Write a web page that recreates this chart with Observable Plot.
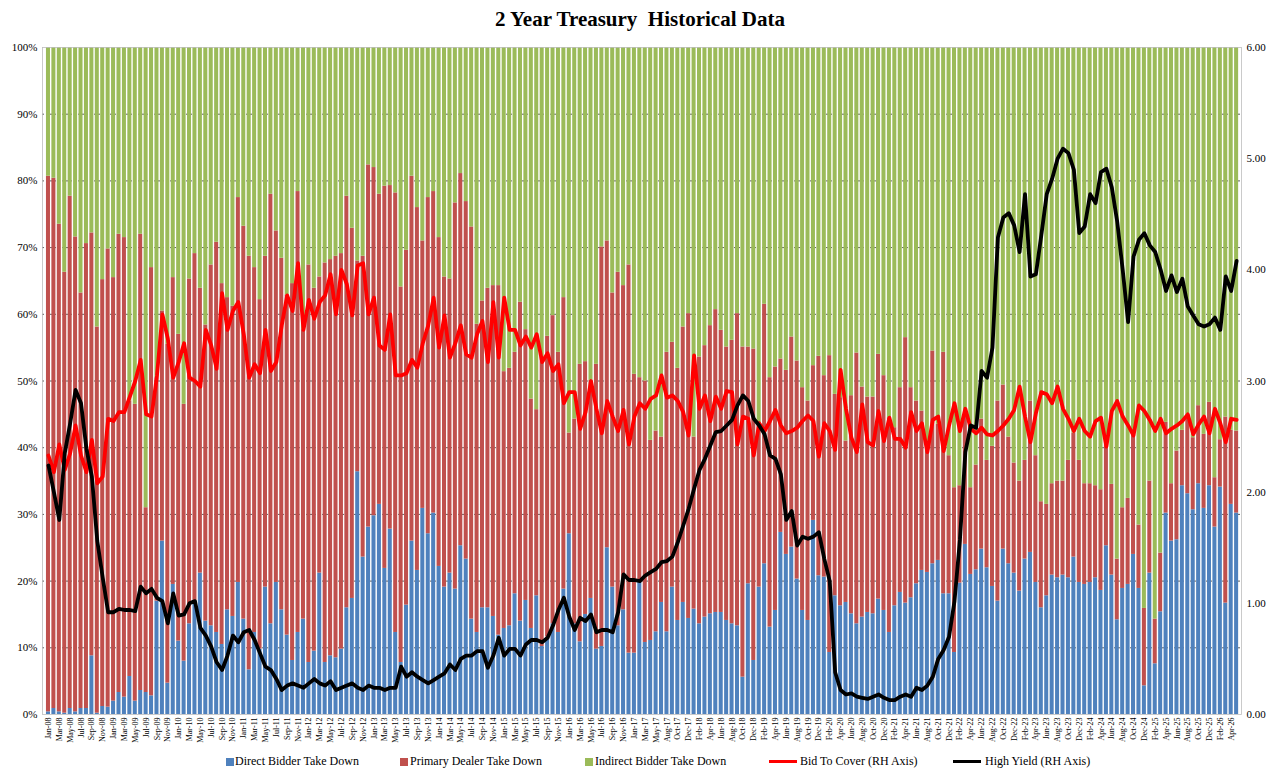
<!DOCTYPE html>
<html><head><meta charset="utf-8">
<script src="https://cdn.jsdelivr.net/npm/d3@7"></script>
<script src="https://cdn.jsdelivr.net/npm/@observablehq/plot@0.6"></script>
<style>
body{margin:0;background:#fff;font-family:"Liberation Serif","Times New Roman",serif;}
#wrap{position:relative;width:1280px;height:778px;overflow:hidden;}
#title{position:absolute;top:7px;left:0;width:1280px;text-align:center;font-weight:bold;font-size:21px;white-space:pre;}
#chart{position:absolute;top:38px;left:0;}
#legend{position:absolute;top:754px;left:0;width:1280px;height:18px;font-size:12px;}
.sw{position:absolute;top:4px;width:8px;height:8px;}
.ln{position:absolute;top:6px;width:28px;height:3px;}
.lt{position:absolute;top:0;white-space:nowrap;}
</style></head>
<body><div id="wrap">
<div id="title">2 Year Treasury  Historical Data</div>
<div id="chart"></div>
<div id="legend"></div>
</div>
<script>
// ---- categories ----
const years = d3.range(2008, 2027);
const monthNames = ["Jan","Feb","Mar","Apr","May","Jun","Jul","Aug","Sep","Oct","Nov","Dec"];
const missingMonths = ["Jul-17"];
const lastMonth = "May-26";

// ---- series (percent of auction) ----
const directBidder = [
  0.4, 0.9, 0.4, 0.2, 0.9, 0.4, 0.9, 0.9, 8.8, 0.2, 1.2, 1.1,
  2.0, 3.3, 2.6, 5.7, 2.0, 3.6, 3.3, 2.8, 17.0, 26.0, 4.7, 19.5,
  11.0, 8.0, 13.6, 17.1, 21.2, 14.0, 13.3, 12.3, 10.5, 15.7, 14.7, 19.8,
  14.3, 6.7, 12.3, 9.8, 19.1, 13.6, 19.8, 15.7, 11.9, 8.1, 12.3, 14.3,
  7.8, 9.5, 21.2, 7.8, 8.8, 8.5, 9.8, 16.0, 17.4, 36.4, 23.6, 28.1,
  29.8, 31.5, 21.9, 27.8, 12.3, 7.8, 16.4, 26.0, 21.6, 30.9, 27.1, 30.2,
  22.2, 19.1, 21.2, 18.8, 25.3, 23.3, 14.3, 12.3, 16.0, 16.0, 14.7, 11.9,
  12.9, 13.3, 18.1, 14.0, 17.1, 12.9, 17.8, 10.2, 11.6, 13.6, 12.3, 18.8,
  27.1, 13.6, 10.9, 15.0, 17.4, 9.8, 10.2, 25.0, 19.1, 13.3, 15.7, 9.2,
  9.2, 19.8, 10.8, 11.1, 12.4, 16.8, 12.4, 19.1, 14.1, 16.8, 14.4,
  15.8, 13.6, 14.6, 15.1, 15.3, 15.3, 14.1, 13.6, 13.3, 5.6, 19.6, 8.1,
  19.1, 22.6, 13.1, 15.6, 27.3, 24.0, 25.1, 20.3, 15.6, 14.1, 29.1, 20.8,
  20.6, 9.3, 17.8, 16.3, 16.8, 15.1, 13.6, 14.6, 15.3, 15.1, 17.3, 15.6,
  12.3, 16.3, 18.3, 16.7, 17.5, 19.6, 21.6, 21.3, 22.6, 23.1, 18.1, 18.1,
  9.3, 19.7, 25.5, 21.0, 21.7, 24.8, 22.0, 19.2, 17.0, 24.8, 22.6, 21.2,
  18.5, 23.3, 24.3, 19.8, 16.0, 17.8, 20.9, 20.5, 20.9, 20.5, 23.6, 19.8,
  19.5, 19.8, 20.5, 18.6, 25.3, 20.9, 14.2, 18.9, 19.5, 24.0, 18.9, 4.3,
  21.2, 7.6, 15.4, 30.2, 26.0, 26.2, 34.3, 33.1, 30.7, 34.6, 30.9, 34.3,
  28.1, 34.1, 16.7, 31.5, 30.2
];
const primaryDealer = [
  80.3, 79.5, 73.1, 66.1, 76.8, 71.2, 62.3, 69.7, 63.4, 57.9, 64.0, 68.7,
  63.5, 68.7, 68.9, 41.3, 44.5, 68.4, 27.7, 64.2, 33.5, 34.5, 50.8, 46.0,
  46.0, 38.5, 51.7, 52.0, 42.7, 44.4, 54.1, 58.5, 54.1, 46.8, 46.5, 57.7,
  58.9, 62.0, 54.7, 52.4, 49.6, 64.4, 52.7, 52.7, 51.0, 56.5, 66.1, 43.4,
  59.6, 54.4, 44.4, 59.9, 59.4, 60.2, 59.3, 61.7, 55.5, 31.6, 45.1, 54.3,
  52.2, 46.5, 57.3, 51.5, 65.9, 56.3, 53.2, 54.7, 54.4, 40.1, 50.4, 48.2,
  49.3, 46.5, 44.1, 57.9, 55.8, 53.6, 58.8, 46.2, 46.0, 47.9, 49.6, 52.4,
  38.5, 38.6, 36.2, 47.8, 40.6, 34.4, 27.9, 43.4, 45.1, 46.2, 42.0, 43.7,
  15.1, 30.7, 41.6, 37.9, 32.7, 42.7, 59.9, 46.0, 44.1, 53.0, 48.6, 58.2,
  41.8, 30.7, 39.2, 30.0, 30.1, 24.8, 41.9, 36.7, 37.8, 41.3, 45.7,
  25.8, 40.0, 40.7, 43.2, 45.4, 42.3, 41.0, 42.5, 46.8, 49.5, 35.5, 46.7,
  24.4, 38.9, 37.4, 36.5, 26.0, 27.6, 31.5, 32.7, 33.4, 32.9, 23.2, 32.9,
  30.2, 44.5, 30.2, 31.2, 24.2, 32.7, 40.6, 34.5, 32.3, 32.5, 36.7, 35.2,
  32.2, 26.7, 30.7, 39.8, 31.5, 27.4, 23.9, 18.7, 31.9, 20.4, 36.2, 20.7,
  24.7, 14.6, 19.5, 13.0, 15.7, 19.5, 16.1, 21.0, 30.0, 24.6, 19.0, 16.5,
  16.5, 14.8, 22.7, 19.0, 15.9, 13.7, 13.7, 14.5, 14.1, 17.6, 18.6, 18.3,
  15.1, 14.8, 13.8, 15.1, 16.6, 13.6, 9.1, 12.1, 12.9, 17.9, 9.5, 11.6,
  13.8, 6.7, 8.8, 13.6, 8.6, 13.3, 8.3, 11.7, 10.8, 11.7, 11.1, 12.5,
  7.4, 7.1, 27.9, 11.1, 12.3
];
// ---- right-axis series ----
const bidToCover = [
  2.33, 2.18, 2.43, 2.20, 2.35, 2.60, 2.33, 2.18, 2.47, 2.08, 2.14, 2.66,
  2.64, 2.72, 2.72, 2.86, 3.00, 3.19, 2.70, 2.68, 3.05, 3.60, 3.38, 3.03,
  3.17, 3.34, 3.03, 3.00, 2.95, 3.46, 3.32, 3.11, 3.79, 3.46, 3.63, 3.71,
  3.42, 3.03, 3.15, 3.07, 3.46, 3.09, 3.17, 3.50, 3.77, 3.63, 4.06, 3.46,
  3.73, 3.56, 3.71, 3.77, 3.96, 3.60, 4.00, 3.87, 3.59, 4.04, 4.06, 3.60,
  3.75, 3.32, 3.28, 3.60, 3.05, 3.05, 3.07, 3.19, 3.12, 3.34, 3.50, 3.75,
  3.30, 3.59, 3.21, 3.34, 3.50, 3.24, 3.21, 3.42, 3.54, 3.17, 3.71, 3.21,
  3.75, 3.46, 3.46, 3.32, 3.40, 3.30, 3.42, 3.17, 3.25, 3.09, 3.15, 2.80,
  2.90, 2.90, 2.57, 2.72, 3.00, 2.75, 2.53, 2.82, 2.68, 2.55, 2.74, 2.43,
  2.68, 2.80, 2.75, 2.84, 2.87, 3.05, 2.85, 2.87, 2.82, 2.72, 2.51,
  3.23, 2.75, 2.87, 2.64, 2.86, 2.75, 2.91, 2.90, 2.43, 2.68, 2.66, 2.33,
  2.62, 2.55, 2.64, 2.74, 2.60, 2.53, 2.55, 2.58, 2.64, 2.69, 2.64, 2.32,
  2.62, 2.55, 2.38, 3.10, 2.75, 2.49, 2.36, 2.79, 2.45, 2.42, 2.73, 2.46,
  2.67, 2.48, 2.48, 2.40, 2.72, 2.55, 2.62, 2.36, 2.65, 2.68, 2.37, 2.60,
  2.80, 2.55, 2.75, 2.57, 2.53, 2.58, 2.52, 2.51, 2.55, 2.60, 2.66, 2.74,
  2.95, 2.68, 2.45, 2.71, 2.90, 2.88, 2.80, 2.95, 2.75, 2.66, 2.55, 2.66,
  2.55, 2.50, 2.64, 2.67, 2.41, 2.73, 2.82, 2.68, 2.60, 2.51, 2.78, 2.73,
  2.65, 2.55, 2.66, 2.53, 2.57, 2.60, 2.64, 2.70, 2.52, 2.61, 2.68, 2.53,
  2.75, 2.62, 2.45, 2.66, 2.65
];
const highYield = [
  2.24, 2.00, 1.75, 2.35, 2.62, 2.92, 2.80, 2.39, 2.14, 1.56, 1.23, 0.92,
  0.92, 0.95, 0.94, 0.94, 0.93, 1.15, 1.09, 1.13, 1.05, 1.02, 0.82, 1.09,
  0.89, 0.90, 1.00, 1.02, 0.78, 0.71, 0.61, 0.47, 0.40, 0.53, 0.71, 0.65,
  0.74, 0.76, 0.67, 0.55, 0.43, 0.40, 0.32, 0.22, 0.26, 0.28, 0.26, 0.24,
  0.28, 0.32, 0.28, 0.26, 0.30, 0.22, 0.24, 0.26, 0.28, 0.24, 0.22, 0.26,
  0.24, 0.24, 0.22, 0.24, 0.24, 0.43, 0.34, 0.38, 0.34, 0.31, 0.28, 0.31,
  0.34, 0.37, 0.45, 0.40, 0.50, 0.53, 0.53, 0.57, 0.57, 0.42, 0.53, 0.69,
  0.53, 0.59, 0.59, 0.53, 0.63, 0.67, 0.67, 0.65, 0.69, 0.80, 0.94, 1.05,
  0.88, 0.76, 0.87, 0.84, 0.90, 0.74, 0.76, 0.76, 0.74, 0.92, 1.26, 1.21,
  1.21, 1.20, 1.25, 1.28, 1.31, 1.37, 1.38, 1.42, 1.55, 1.70, 1.85,
  2.03, 2.20, 2.30, 2.42, 2.54, 2.55, 2.60, 2.65, 2.78, 2.87, 2.82, 2.66,
  2.60, 2.52, 2.33, 2.30, 2.16, 1.75, 1.83, 1.52, 1.60, 1.58, 1.60, 1.64,
  1.40, 1.20, 0.38, 0.22, 0.18, 0.19, 0.16, 0.15, 0.14, 0.16, 0.18, 0.15,
  0.13, 0.13, 0.16, 0.18, 0.16, 0.24, 0.22, 0.26, 0.34, 0.50, 0.58, 0.70,
  1.02, 1.57, 2.36, 2.60, 2.58, 3.09, 3.03, 3.30, 4.29, 4.47, 4.51, 4.40,
  4.16, 4.68, 3.94, 3.96, 4.31, 4.68, 4.82, 5.00, 5.09, 5.05, 4.90, 4.33,
  4.39, 4.68, 4.60, 4.88, 4.91, 4.74, 4.43, 4.00, 3.53, 4.12, 4.27, 4.33,
  4.22, 4.16, 4.00, 3.81, 3.95, 3.80, 3.92, 3.67, 3.59, 3.51, 3.49, 3.51,
  3.57, 3.46, 3.94, 3.81, 4.08
];

const seriesNames = ["Direct Bidder Take Down","Primary Dealer Take Down","Indirect Bidder Take Down"];
const seriesColors = ["#4f81bd","#c0504d","#9bbb59"];
const lineNames = ["Bid To Cover (RH Axis)","High Yield (RH Axis)"];
const lineColors = ["#ff0000","#000000"];
const leftTicks = d3.range(0, 101, 10);
const rightTicks = d3.range(0, 7);
const rightMax = 6;

// build month labels
const labels = [];
for (const y of years) {
  for (const m of monthNames) {
    const lab = m + "-" + String(y).slice(2);
    if (missingMonths.includes(lab)) continue;
    labels.push(lab);
    if (lab === lastMonth) break;
  }
}
const n = directBidder.length;

const stacked = [];
for (let i = 0; i < n; i++) {
  const vals = [directBidder[i], primaryDealer[i], 100 - directBidder[i] - primaryDealer[i]];
  let y0 = 0;
  vals.forEach((v, k) => { stacked.push({i, series: seriesNames[k], y1: y0, y2: y0 + v}); y0 += v; });
}
const toLeft = v => v * 100 / rightMax;
const btcData = bidToCover.map((v, i) => ({i, v: toLeft(v)}));
const yldData = highYield.map((v, i) => ({i, v: toLeft(v)}));

const chart = Plot.plot({
  width: 1280, height: 717,
  marginLeft: 42, marginRight: 39, marginTop: 9, marginBottom: 41,
  style: {fontFamily: "Liberation Serif, Times New Roman, serif", fontSize: "11px", background: "transparent", color: "#000"},
  x: {type: "linear", domain: [-1.1, n - 0.1]},
  y: {domain: [0, 100]},
  color: {domain: seriesNames, range: seriesColors},
  marks: [
    Plot.ruleY(leftTicks.filter(d => d > 0 && d < 100), {stroke: "#333", strokeWidth: 0.8, strokeDasharray: "2,2"}),
    Plot.rect(stacked, {x1: d => d.i - 0.5, x2: d => d.i + 0.5, y1: "y1", y2: "y2", fill: "series", insetLeft: 0.7, insetRight: 0.7}),
    Plot.line(btcData, {x: "i", y: "v", stroke: lineColors[0], strokeWidth: 3.8, strokeLinejoin: "round"}),
    Plot.line(yldData, {x: "i", y: "v", stroke: lineColors[1], strokeWidth: 3.8, strokeLinejoin: "round"}),
    Plot.frame({stroke: "#bdbdbd", strokeWidth: 0.8}),
    Plot.axisY(leftTicks, {anchor: "left", tickSize: 0, tickPadding: 5, tickFormat: d => d + "%", fontSize: 11, label: null}),
    Plot.axisY(rightTicks.map(toLeft), {anchor: "right", tickSize: 0, tickPadding: 5, tickFormat: d => (d * rightMax / 100).toFixed(2), fontSize: 11, label: null}),
    Plot.axisX(d3.range(0, n, 2), {anchor: "bottom", tickSize: 0, tickPadding: 3, tickRotate: -90, tickFormat: i => labels[i], fontSize: 8, label: null})
  ]
});
document.getElementById("chart").appendChild(chart);

// legend
const lg = document.getElementById("legend");
const swPos = [[226, 235], [400, 410], [585, 595]];
seriesNames.forEach((name, k) => {
  lg.insertAdjacentHTML("beforeend", `<div class="sw" style="left:${swPos[k][0]}px;background:${seriesColors[k]}"></div><div class="lt" style="left:${swPos[k][1]}px">${name}</div>`);
});
const lnPos = [[769, 800], [953, 985]];
lineNames.forEach((name, k) => {
  lg.insertAdjacentHTML("beforeend", `<div class="ln" style="left:${lnPos[k][0]}px;background:${lineColors[k]}"></div><div class="lt" style="left:${lnPos[k][1]}px">${name}</div>`);
});
</script>
</body></html>
